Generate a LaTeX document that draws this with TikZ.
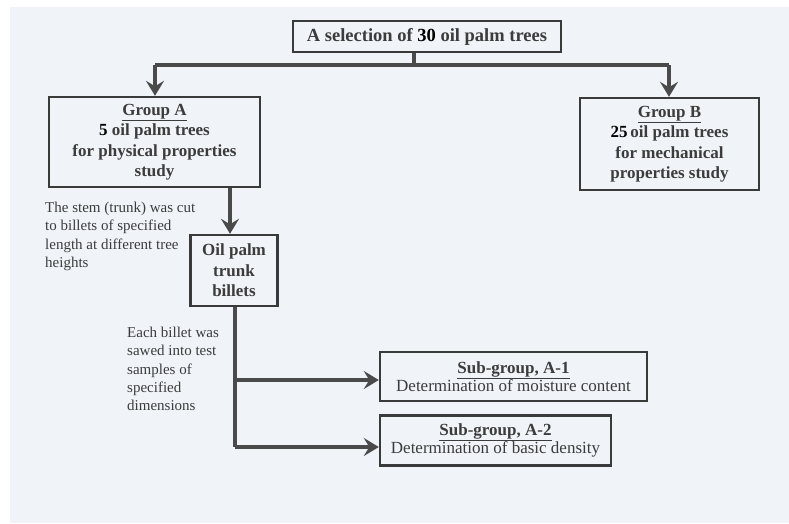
\documentclass[tikz,border=0pt]{standalone}
\usepackage{fontspec}
\setmainfont{Liberation Serif}
\usetikzlibrary{arrows.meta}
\definecolor{bgc}{HTML}{F0F3F8}
\definecolor{txt}{HTML}{3C3C3C}
\definecolor{edge}{HTML}{3A3A3A}
\definecolor{conn}{HTML}{4A4A4A}
\begin{document}
\begin{tikzpicture}[x=1pt,y=-1pt,
  box/.style={draw=edge, line width=2.4pt, fill=none, inner sep=0pt, align=center, text=txt},
  bigbold/.style={font=\bfseries\fontsize{17}{20.5}\selectfont},
  subbox/.style={box, font=\fontsize{17}{18.5}\selectfont},
  note/.style={inner sep=0pt, anchor=north west, align=left, text=txt, font=\fontsize{15}{18.3}\selectfont},
  conn/.style={draw=conn, line width=3.8pt},
  arr/.style={conn, -{Stealth[length=15pt,width=18pt,inset=5.5pt]}}
]
\useasboundingbox (0,0) rectangle (789,523);
\fill[white] (0,0) rectangle (789,523);
\fill[bgc] (10,7) rectangle (789,523);

\node[box, minimum width=268pt, minimum height=31pt, font=\bfseries\fontsize{18.5}{20}\selectfont] (top) at (427,36.5)
  {A selection of \textcolor{black}{30} oil palm trees};

\node[box, bigbold, minimum width=211pt, minimum height=90pt] (ga) at (154.5,142)
  {\underline{Group A}\\ \textcolor{black}{5} oil palm trees\\ for physical properties\\ study};

\node[box, bigbold, minimum width=179pt, minimum height=92pt] (gb) at (669.5,144)
  {\underline{Group B}\\ \textcolor{black}{25}\,oil palm trees\\ for mechanical\\ properties study};

\node[box, bigbold, minimum width=87pt, minimum height=71pt] (bil) at (234,270.5)
  {Oil palm\\ trunk\\ billets};

\node[subbox, minimum width=267pt, minimum height=49pt] (a1) at (513.5,376.5)
  {\textbf{\underline{Sub-group, A-1}}\\ Determination of moisture content};

\node[subbox, minimum width=231pt, minimum height=50pt] (a2) at (495.5,440.5)
  {\textbf{\underline{Sub-group, A-2}}\\ Determination of basic density};

\node[note] (stem) at (45,202)
  {The stem (trunk) was cut\\ to billets of specified\\ length at different tree\\ heights};

\node[note] (saw) at (127,327)
  {Each billet was\\ sawed into test\\ samples of\\ specified\\ dimensions};

% connectors
\coordinate (hub) at (414,65);
\coordinate (hl) at (155,65);
\coordinate (hr) at (669,65);
\draw[conn] (top.south -| hub) -- (hub);
\draw[conn] (hl) -- (hr);
\draw[arr] (hl) -- (hl |- ga.north);
\draw[arr] (hr) -- (hr |- gb.north);

\coordinate (gax) at (230,187);
\draw[arr] (ga.south -| gax) -- (gax |- bil.north);

\coordinate (j1) at (235,380);
\coordinate (j2) at (235,447);
\draw[conn] (bil.south -| j1) -- (j2);
\draw[arr] (j1) -- (j1 -| a1.west);
\draw[arr] (j2) -- (j2 -| a2.west);
\end{tikzpicture}
\end{document}
